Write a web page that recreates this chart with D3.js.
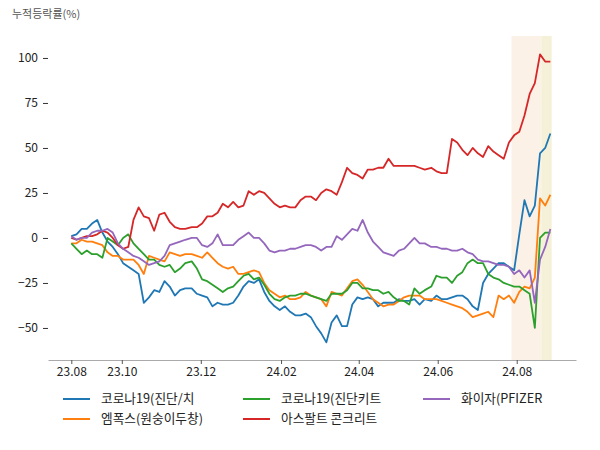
<!DOCTYPE html>
<html><head><meta charset="utf-8">
<script src="https://cdn.jsdelivr.net/npm/d3@7"></script>
<style>
html,body{margin:0;padding:0;background:#fff;}
svg{display:block;font-family:"Noto Sans CJK KR","Noto Sans",sans-serif;}
</style></head>
<body><svg id="c" width="600" height="450"></svg>
<script>
const seriesNames = ["코로나19(진단/치","엠폭스(원숭이두창)","코로나19(진단키트","아스팔트 콘크리트","화이자(PFIZER"];
const seriesColors = ["#1f77b4","#ff7f0e","#2ca02c","#d62728","#9467bd"];

const covidTreat = [1,2,5,5,8,10,3,-2,-5,-9,-14,-16,-18,-20,-36,-33,-29,-30,-24,-27,-32,-29,-28,-28,-31,-32,-33,-38,-36,-37,-37,-36,-32,-27,-24,-25,-23,-30,-35,-38,-40,-38,-41,-43,-43,-42,-44,-49,-53,-58,-47,-43,-49,-49,-37,-33,-34,-33,-34,-38,-36,-36,-36,-34,-35,-35,-34,-37,-34,-35,-32,-34,-34,-33,-32,-32,-34,-38,-40,-25,-20,-17,-14,-14,-16,-18,2,21,12,18,47,50,58];
const mpox = [-3,-3,-1,-2,-2,-3,-4,-8,-10,-10,-12,-12,-12,-15,-20,-10,-11,-12,-13,-8,-9,-10,-9,-9,-10,-11,-8,-11,-14,-16,-17,-16,-20,-20,-19,-18,-19,-25,-29,-31,-33,-32,-34,-34,-33,-30,-32,-33,-34,-38,-30,-31,-32,-28,-24,-23,-26,-30,-34,-36,-38,-37,-37,-35,-33,-32,-32,-32,-34,-34,-34,-35,-36,-37,-38,-39,-41,-44,-43,-42,-41,-44,-32,-34,-32,-36,-30,-27,-28,-22,22,18,24];
const covidKit = [-3,-6,-9,-7,-9,-9,-11,0,-2,-4,0,2,-3,-6,-9,-12,-12,-15,-16,-15,-19,-17,-14,-13,-17,-23,-24,-26,-28,-30,-28,-27,-24,-21,-20,-23,-22,-26,-31,-34,-35,-33,-32,-32,-31,-31,-32,-33,-34,-35,-31,-31,-31,-29,-25,-25,-28,-28,-29,-29,-31,-30,-33,-35,-35,-37,-28,-31,-29,-27,-21,-22,-22,-25,-21,-19,-14,-12,-14,-14,-20,-22,-23,-25,-26,-27,-27,-29,-31,-50,0,3,3];
const asphalt = [0,-1,0,1,1,2,4,3,0,-4,-6,-5,10,17,12,11,4,13,14,9,6,5,5,6,6,8,12,12,14,19,17,20,17,18,26,24,26,25,22,19,17,18,17,17,21,23,23,21,25,27,26,24,31,39,36,35,33,38,38,39,39,44,40,40,40,40,40,39,38,39,37,36,36,55,53,49,46,50,47,45,51,48,46,44,53,57,59,68,80,86,102,98,98];
const pfizer = [1,-1,0,0,3,4,4,5,3,-3,-6,-8,-10,-11,-13,-15,-14,-13,-10,-4,-3,-2,-1,0,0,-4,-5,-3,2,-4,-4,-4,-1,1,3,0,0,-3,-7,-8,-7,-7,-6,-6,-5,-4,-4,-5,-7,-5,-5,1,-1,2,5,4,10,3,-2,-5,-8,-9,-10,-7,-6,-3,0,-3,-3,-5,-5,-6,-6,-7,-7,-6,-8,-9,-12,-13,-13,-14,-15,-15,-16,-20,-18,-22,-18,-36,-12,-5,5];

const startDate = new Date(2023,7,23);
const spanDays = 370;
const dates = covidTreat.map((_, i) => d3.timeDay.offset(startDate, Math.round(i * spanDays / (covidTreat.length - 1))));

const yTicks = [-50,-25,0,25,50,75,100];
const xTickDates = [startDate, new Date(2023,9,1), new Date(2023,11,1), new Date(2024,1,1), new Date(2024,3,1), new Date(2024,5,1), new Date(2024,7,1)];
const xTickLabels = ["23.08","23.10","23.12","24.02","24.04","24.06","24.08"];
const bands = [[new Date(2024,6,28), new Date(2024,7,20)], [new Date(2024,7,20), new Date(2024,7,28)]];
const bandColors = ["#fbf1e7","#f5f1d8"];
const allSeries = [covidTreat, mpox, covidKit, asphalt, pfizer];

const svg = d3.select("#c");
const L = 48, R = 576, T = 36, B = 360;
const x = d3.scaleTime().domain([new Date(2023,7,5), new Date(2024,8,15,19)]).range([L, R]);
const y = d3.scaleLinear().domain([-67.8, 112.2]).range([B, T]);

svg.append("g").selectAll("rect").data(bands).join("rect")
  .attr("x", d => x(d[0])).attr("width", d => x(d[1]) - x(d[0]))
  .attr("y", T).attr("height", B - T)
  .attr("fill", (d, i) => bandColors[i]);

const line = d3.line().x((d, i) => x(dates[i])).y(d => y(d));
svg.append("g").selectAll("path").data(allSeries).join("path")
  .attr("d", d => line(d)).attr("fill", "none")
  .attr("stroke", (d, i) => seriesColors[i]).attr("stroke-width", 1.8)
  .attr("stroke-linejoin", "round");

const xa = svg.append("g").attr("transform", `translate(0,${B})`)
  .call(d3.axisBottom(x).tickValues(xTickDates).tickFormat((d, i) => xTickLabels[i]).tickSize(4).tickPadding(3).tickSizeOuter(0));
xa.select(".domain").attr("stroke", "#aaaaaa");
xa.selectAll(".tick line").attr("stroke", "#555");
xa.selectAll("text").attr("font-size", 12).attr("fill", "#222").style("font-family", "'Noto Sans CJK KR'");

const ya = svg.append("g").attr("transform", `translate(${L},0)`)
  .call(d3.axisLeft(y).tickValues(yTicks).tickSize(5).tickPadding(5));
ya.select(".domain").remove();
ya.selectAll(".tick line").attr("stroke", "#333");
ya.selectAll("text").attr("font-size", 12).attr("fill", "#222").style("font-family", "'Noto Sans CJK KR'");

svg.append("text").attr("x", 12).attr("y", 18).attr("font-size", 11).attr("fill", "#555").text("누적등락률(%)");

const lg = svg.append("g");
seriesNames.forEach((name, i) => {
  const col = Math.floor(i / 2), row = i % 2;
  const lx = 63 + col * 180, ly = 399 + row * 20;
  lg.append("line").attr("x1", lx).attr("x2", lx + 27).attr("y1", ly).attr("y2", ly)
    .attr("stroke", seriesColors[i]).attr("stroke-width", 2);
  lg.append("text").attr("x", lx + 38).attr("y", ly).attr("dy", "0.35em")
    .attr("font-size", 12.7).attr("fill", "#222").text(name);
});
</script></body></html>
